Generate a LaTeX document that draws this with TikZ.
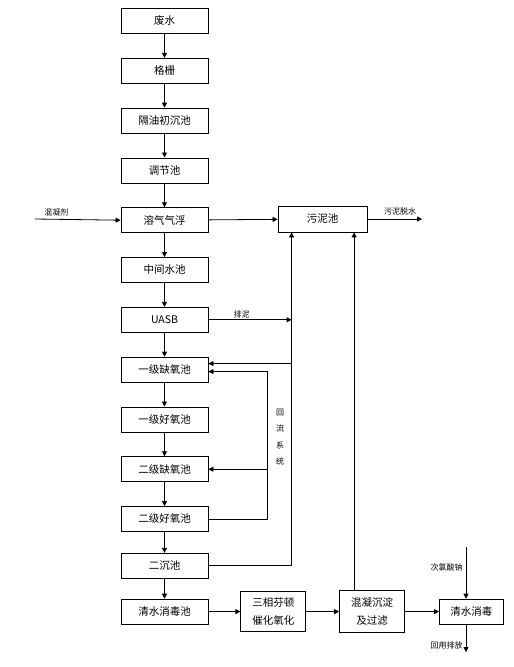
\documentclass[tikz,border=0pt]{standalone}
\usepackage{fontspec}
\newfontfamily\cjk{Noto Sans CJK SC}
\usetikzlibrary{positioning,arrows.meta}

\begin{document}
\begin{tikzpicture}[
            x=1pt, y=-1pt,
            node distance=24pt,
            line width=0.8pt,
            proc/.style={draw, minimum width=87pt, minimum height=25pt, inner sep=1pt,
                font=\cjk\fontsize{10.5}{18}\selectfont, align=center},
            lbl/.style={font=\cjk\fontsize{8}{16.5}\selectfont, inner sep=1pt, align=center},
            flow/.style={-{Triangle[length=5pt,width=5pt]}}
        ]
        \useasboundingbox (0,0) rectangle (514,667);
        % main column
        \node[proc] (feishui) at (164.5,21) {废水};
        \node[proc, below=of feishui] (gezha) {格栅};
        \node[proc, below=of gezha] (geyou) {隔油初沉池};
        \node[proc, below=of geyou] (tiaojie) {调节池};
        \node[proc, below=of tiaojie] (qifu) {溶气气浮};
        \node[proc, below=of qifu] (zhongjian) {中间水池};
        \node[proc, below=of zhongjian] (uasb) {UASB};
        \node[proc, below=of uasb] (que1) {一级缺氧池};
        \node[proc, below=of que1] (hao1) {一级好氧池};
        \node[proc, below=of hao1] (que2) {二级缺氧池};
        \node[proc, below=of que2] (hao2) {二级好氧池};
        \node[proc, below=21pt of hao2] (erchen) {二沉池};
        \node[proc, below=20pt of erchen] (qingchi) {清水消毒池};
        % bottom row and sludge tank
        \node[proc, minimum width=65pt, minimum height=40pt, right=32pt of qingchi] (fenton) {三相芬顿\\催化氧化};
        \node[proc, minimum width=65pt, minimum height=42pt, right=33pt of fenton] (hunning) {混凝沉淀\\及过滤};
        \node[proc, minimum width=64pt, right=34pt of hunning] (xiaodu) {清水消毒};
        \node[proc, minimum width=89pt, minimum height=26pt] (wuni) at (322.5,219) {污泥池};

        % column arrows
        \foreach \a/\b in {feishui/gezha, gezha/geyou, geyou/tiaojie, tiaojie/qifu,
            qifu/zhongjian, zhongjian/uasb, uasb/que1, que1/hao1, hao1/que2,
            que2/hao2, hao2/erchen, erchen/qingchi, qingchi/fenton, fenton/hunning,
            hunning/xiaodu, qifu/wuni}
            \draw[flow] (\a) -- (\b);

        % sludge lines
        \coordinate (rl) at ([xshift=14pt]wuni.south west);
        \coordinate (rb) at (267,0);
        \draw[flow] (erchen.east) -| (rl);
        \draw[flow] (uasb.east) -- node[lbl, above, pos=.4] {排泥} (uasb.east -| rl);
        \draw[flow] ([yshift=6pt]que1.east -| rl) -- ([yshift=6pt]que1.east);
        \draw[flow] ([xshift=-18pt]hunning.north) -- ([xshift=-18pt]hunning.north |- wuni.south);

        % return loop
        \draw[flow] (hao2.east) -- (hao2.east -| rb) |- ([yshift=-2pt]que1.east);
        \draw[flow] (que2.east -| rb) -- (que2.east);
        \node[lbl] (huiliu) at (280,437) {回\\流\\系\\统};

        % inputs and outputs
        \coordinate (hnj) at (35,219);
        \coordinate (tuoshui) at (422,219);
        \coordinate (naclo) at (466,547);
        \coordinate (huiyong) at (466,652);
        \draw[flow] (hnj) -- node[lbl, above=2pt, pos=.25] {混凝剂} (qifu.west);
        \draw[flow] (wuni.east) -- node[lbl, above=2pt, pos=.6] {污泥脱水} (tuoshui);
        \draw[flow] (naclo) -- node[lbl, left=2pt, pos=.4] {次氯酸钠} (naclo |- xiaodu.north);
        \draw[flow] (xiaodu.south -| huiyong) -- node[lbl, left=2pt, pos=.75] {回用排放} (huiyong);
\end{tikzpicture}
\end{document}
